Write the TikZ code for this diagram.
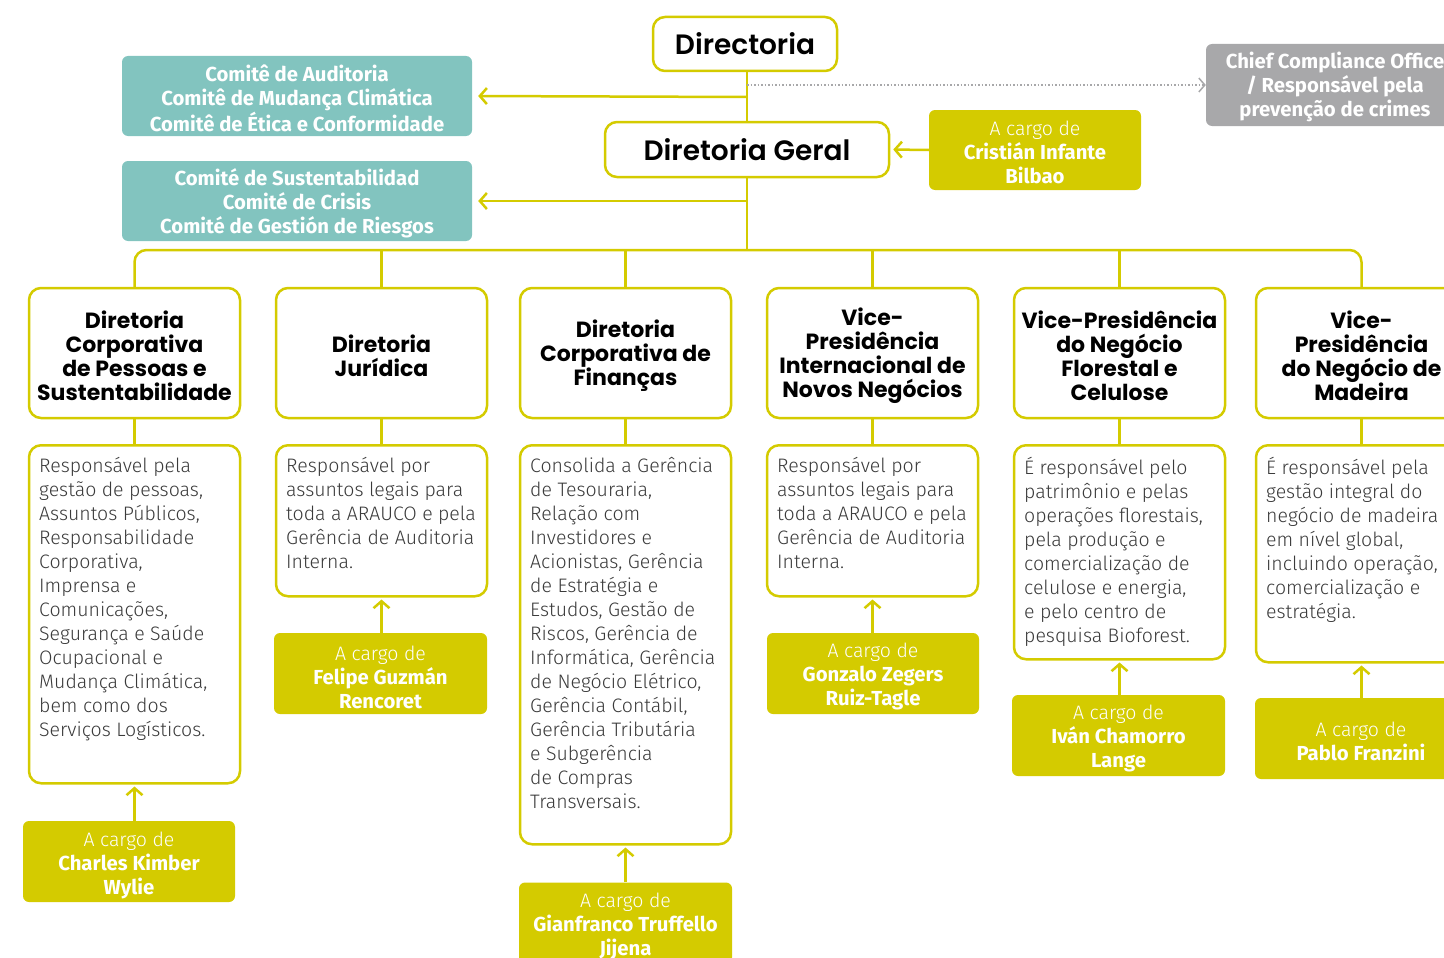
\documentclass[tikz,border=0pt]{standalone}
\usepackage{fontspec}
\setmainfont{Fira Sans}[UprightFont=* Light, BoldFont=* Bold]
\newfontfamily\hfont{Poppins}[UprightFont=* SemiBold, BoldFont=* Bold]
\usetikzlibrary{arrows.meta}
\definecolor{ylw}{HTML}{D4CB00}
\definecolor{tealc}{HTML}{82C4BF}
\definecolor{gry}{HTML}{A8A8AA}
\definecolor{txt}{HTML}{3A3A3A}
\newcommand\nm[1]{{\bfseries\fontsize{20.3}{24}\selectfont #1}}
\tikzset{
  hbox/.style={draw=ylw, line width=2.5pt, rounded corners=12pt, fill=white, minimum width=211pt, minimum height=130pt, inner sep=0pt},
  htext/.style={align=center, inner sep=0pt, font=\hfont\bfseries\fontsize{22}{24}\selectfont, text=black},
  dbox/.style={draw=ylw, line width=2.5pt, rounded corners=12pt, fill=white, minimum width=211pt, inner sep=0pt, anchor=north},
  dtext/.style={anchor=north west, align=left, inner sep=0pt, font=\fontsize{19.5}{24}\selectfont, text=txt},
  pbox/.style={fill=ylw, rounded corners=6pt, minimum width=212pt, minimum height=81pt, inner sep=0pt},
  ptext/.style={align=center, inner sep=0pt, text=white, font=\fontsize{19.5}{24}\selectfont},
  cbox/.style={fill=tealc, rounded corners=6pt, minimum width=350pt, minimum height=80pt, inner sep=0pt},
  ctext/.style={align=center, inner sep=0pt, text=white, font=\bfseries\fontsize{20.3}{24}\selectfont},
  topbox/.style={draw=ylw, line width=2.5pt, rounded corners=12pt, fill=white, align=center, inner sep=0pt, font=\hfont\fontsize{28}{32}\selectfont, text=black},
  ln/.style={draw=ylw, line width=2.5pt},
  arr/.style={draw=ylw, line width=2.5pt, -{Straight Barb[length=7pt, width=16pt, line width=2.5pt]}},
}
\begin{document}
\begin{tikzpicture}[x=1pt, y=-1pt]
\useasboundingbox (0,0) rectangle (1444,958);
% top
\node[topbox, minimum width=184pt, minimum height=54pt] (dir) at (745,44) {Directoria};
\node[topbox, minimum width=284pt, minimum height=55pt] (dg) at (747,149.5) {Diretoria Geral};
\node[fill=gry, rounded corners=6pt, minimum width=258pt, minimum height=82pt, inner sep=0pt] (cco) at (1335,85) {};
\node[ctext] at ([yshift=-2pt]cco.center) {Chief Compliance Office\\/ Responsável pela\\prevenção de crimes};
\node[cbox] (t1) at (297,96) {};
\node[ctext] at ([yshift=-2pt]t1.center) {Comitê de Auditoria\\Comitê de Mudança Climática\\Comitê de Ética e Conformidade};
\node[cbox] (t2) at (297,201) {};
\node[ctext] at ([yshift=-2pt]t2.center) {Comité de Sustentabilidad\\Comité de Crisis\\Comité de Gestión de Riesgos};
\node[pbox, minimum height=80pt] (cr) at (1035,150) {};
\node[ptext] at ([yshift=-2.5pt]cr.center) {A cargo de\\\nm{Cristián Infante}\\\nm{Bilbao}};
\coordinate (j0) at (747,85);
\coordinate (j1) at (747,97);
\coordinate (j2) at (747,201);
\coordinate (bus) at (747,250);
% headings
\node[hbox] (h1) at (134.5,353) {};
\node[hbox] (h2) at (381.5,353) {};
\node[hbox] (h3) at (625.5,353) {};
\node[hbox] (h4) at (872.5,353) {};
\node[hbox] (h5) at (1119.5,353) {};
\node[hbox] (h6) at (1361.5,353) {};
\node[htext] at ([yshift=-2.5pt]h1.center) {Diretoria\\Corporativa\\de Pessoas e\\Sustentabilidade};
\node[htext] at ([yshift=-2.5pt]h2.center) {Diretoria\\Jurídica};
\node[htext] at ([yshift=-2.5pt]h3.center) {Diretoria\\Corporativa de\\Finanças};
\node[htext] at ([yshift=-2.5pt]h4.center) {Vice-\\Presidência\\Internacional de\\Novos Negócios};
\node[htext] at ([yshift=-2.5pt]h5.center) {Vice-Presidência\\do Negócio\\Florestal e\\Celulose};
\node[htext] at ([yshift=-2.5pt]h6.center) {Vice-\\Presidência\\do Negócio de\\Madeira};
% description boxes
\node[dbox, minimum height=338pt] (d1) at (134.5,444) {};
\node[dbox, minimum height=151pt] (d2) at (381.5,444) {};
\node[dbox, minimum height=399pt] (d3) at (625.5,444) {};
\node[dbox, minimum height=151pt] (d4) at (872.5,444) {};
\node[dbox, minimum height=214pt] (d5) at (1119.5,444) {};
\node[dbox, minimum height=217pt] (d6) at (1361.5,444) {};
\node[dtext] (x1) at (39,457) {Responsável pela\\gestão de pessoas,\\Assuntos Públicos,\\Responsabilidade\\Corporativa,\\Imprensa e\\Comunicações,\\Segurança e Saúde\\Ocupacional e\\Mudança Climática,\\bem como dos\\Serviços Logísticos.};
\node[dtext] (x2) at (286,457) {Responsável por\\assuntos legais para\\toda a ARAUCO e pela\\Gerência de Auditoria\\Interna.};
\node[dtext] (x3) at (530,457) {Consolida a Gerência\\de Tesouraria,\\Relação com\\Investidores e\\Acionistas, Gerência\\de Estratégia e\\Estudos, Gestão de\\Riscos, Gerência de\\Informática, Gerência\\de Negócio Elétrico,\\Gerência Contábil,\\Gerência Tributária\\e Subgerência\\de Compras\\Transversais.};
\node[dtext] (x4) at (777,457) {Responsável por\\assuntos legais para\\toda a ARAUCO e pela\\Gerência de Auditoria\\Interna.};
\node[dtext] (x5) at (1024,457) {É responsável pelo\\patrimônio e pelas\\operações florestais,\\pela produção e\\comercialização de\\celulose e energia,\\e pelo centro de\\pesquisa Bioforest.};
\node[dtext] (x6) at (1266,457) {É responsável pela\\gestão integral do\\negócio de madeira\\em nível global,\\incluindo operação,\\comercialização e\\estratégia.};
% person boxes
\node[pbox] (p1) at (129,861.5) {};
\node[pbox, minimum width=213pt] (p2) at (380.5,673.5) {};
\node[pbox, minimum width=213pt] (p3) at (625.5,923) {};
\node[pbox] (p4) at (873,673.5) {};
\node[pbox, minimum width=213pt] (p5) at (1118.5,735.5) {};
\node[pbox] (p6) at (1361,738.5) {};
\node[ptext] at ([yshift=-4pt]p1.center) {A cargo de\\\nm{Charles Kimber}\\\nm{Wylie}};
\node[ptext] at ([yshift=-3.5pt]p2.center) {A cargo de\\\nm{Felipe Guzmán}\\\nm{Rencoret}};
\node[ptext] at ([yshift=-3.5pt]p3.center) {A cargo de\\\nm{Gianfranco Truffello}\\\nm{Jijena}};
\node[ptext] at ([yshift=-3.5pt]p4.center) {A cargo de\\\nm{Gonzalo Zegers}\\\nm{Ruiz-Tagle}};
\node[ptext] at ([yshift=-3.5pt]p5.center) {A cargo de\\\nm{Iván Chamorro}\\\nm{Lange}};
\node[ptext] at ([yshift=-2.5pt]p6.center) {A cargo de\\\nm{Pablo Franzini}};
% connectors
\draw[ln] (dg.north |- dir.south) -- (dg.north);
\draw[ln] (dg.south) -- (bus);
\draw[ln, rounded corners=12pt] (h1.north) |- (bus) -| (h6.north);
\foreach \i in {2,3,4,5} {\draw[ln] (h\i.north) -- (h\i.north |- bus);}
\foreach \i in {1,...,6} {\draw[ln] (h\i.south) -- (d\i.north);}
\foreach \i in {1,...,6} {\draw[arr, shorten >=2pt] (p\i.north -| d\i.south) -- (d\i.south);}
\draw[arr, shorten >=6pt] (j1) -- (t1.east);
\draw[arr, shorten >=6pt] (j2) -- (t2.east);
\draw[arr, shorten >=3pt] (cr.west) -- (dg.east);
\draw[gry, line width=1.5pt, dotted, -{Straight Barb[length=6pt, width=14pt, line width=1.5pt]}] (j0) -- (cco.west |- j0);
\end{tikzpicture}
\end{document}
